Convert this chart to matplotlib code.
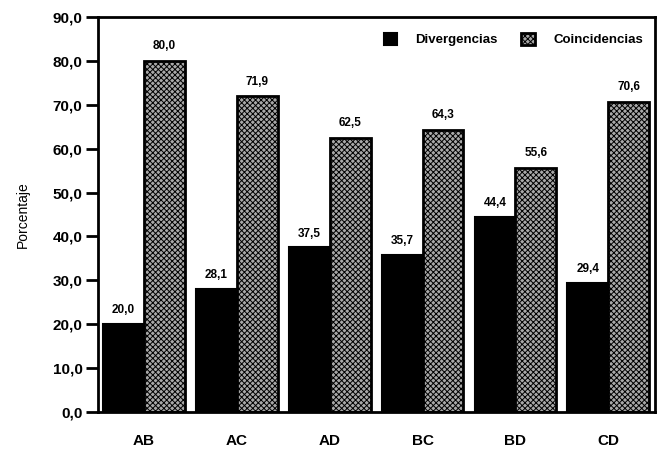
import numpy as np
import matplotlib.pyplot as plt

plt.rcParams['font.family'] = ['Liberation Sans', 'DejaVu Sans']
plt.rcParams['hatch.linewidth'] = 0.7

pares = ['AB', 'AC', 'AD', 'BC', 'BD', 'CD']
divergencias = [20.0, 28.1, 37.5, 35.7, 44.4, 29.4]
coincidencias = [80.0, 71.9, 62.5, 64.3, 55.6, 70.6]

x = np.arange(len(pares))
w = 0.44

fig = plt.figure(figsize=(6.6, 4.53), dpi=100)
ax = fig.add_axes([0.148, 0.0905, 0.844, 0.872])

b1 = ax.bar(x - w / 2, divergencias, w, color='black', edgecolor='black',
            linewidth=1.5, label='Divergencias')
b2 = ax.bar(x + w / 2, coincidencias, w, color='#a8a8a8', edgecolor='black',
            hatch='xxxxxx', linewidth=2.0, label='Coincidencias')

def fmt(v):
    return f'{v:.1f}'.replace('.', ',')

for r, v in zip(b1, divergencias):
    ax.text(r.get_x() + r.get_width() / 2, v + 1.8, fmt(v), ha='center', va='bottom',
            fontsize=8.5, fontweight='bold',
            bbox=dict(facecolor='white', edgecolor='none', pad=1.5))
for r, v in zip(b2, coincidencias):
    ax.text(r.get_x() + r.get_width() / 2, v + 2.0, fmt(v), ha='center', va='bottom',
            fontsize=8.5, fontweight='bold')

ax.set_xlim(-0.5, len(pares) - 0.5)
ax.set_ylim(0, 90)
ax.set_yticks(np.arange(0, 91, 10))
ax.set_yticklabels([fmt(t) for t in np.arange(0, 91, 10)], fontsize=11, fontweight='bold')
ax.set_xticks(x)
ax.set_xticklabels(pares, fontsize=11, fontweight='bold')
ax.tick_params(axis='x', length=0, pad=16)
ax.tick_params(axis='y', direction='out', length=9, width=2, pad=2)
for s in ax.spines.values():
    s.set_linewidth(2)
ax.set_ylabel('Porcentaje', fontsize=10, labelpad=16)

ax.legend(loc='upper right', ncol=2, frameon=False,
          prop={'weight': 'bold', 'size': 9.5}, handlelength=1.0, handleheight=1.0,
          columnspacing=1.8, handletextpad=1.4, bbox_to_anchor=(1.0, 0.99))

fig.savefig('out.png', dpi=100)
